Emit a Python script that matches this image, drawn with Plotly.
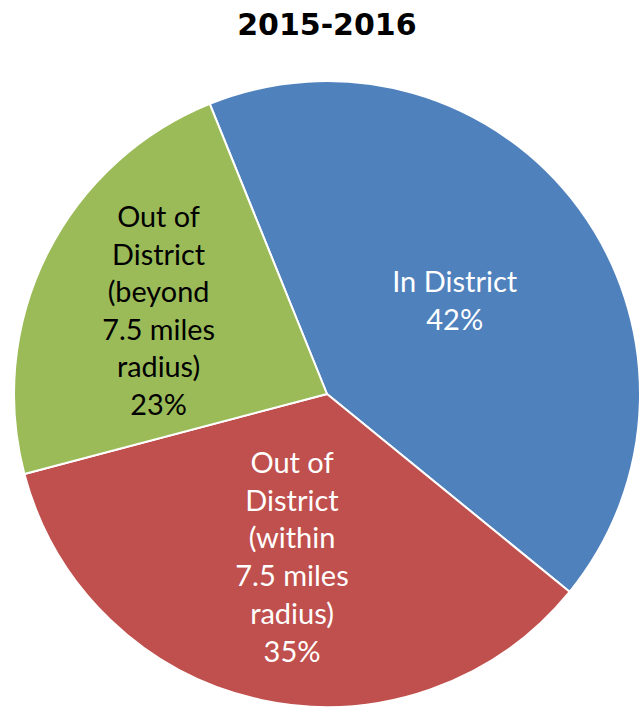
import plotly.graph_objects as go

labels = ["In District", "Out of District (within 7.5 miles radius)", "Out of District (beyond 7.5 miles radius)"]
text_labels = ["In District", "Out of<br>District<br>(within<br>7.5 miles<br>radius)", "Out of<br>District<br>(beyond<br>7.5 miles<br>radius)"]
values = [42, 35, 23]
colors = ["#4F81BD", "#C0504D", "#9BBB59"]
text_colors = ["white", "white", "black"]

fig = go.Figure(go.Pie(
    labels=labels,
    values=values,
    text=text_labels,
    texttemplate="%{text}<br>%{percent:.0%}",
    textposition="inside",
    insidetextorientation="horizontal",
    sort=False,
    direction="clockwise",
    rotation=-22,
    marker=dict(colors=colors, line=dict(color="white", width=2)),
    textfont=dict(family="Lato", size=29, color=text_colors),
    showlegend=False,
    hoverinfo="label+percent",
))

fig.update_layout(
    width=641, height=714,
    margin=dict(l=14, r=1, t=81, b=7),
    paper_bgcolor="white",
    title=dict(text="<b>2015-2016</b>", x=0.51, xanchor="center", y=0.965, yanchor="middle",
               font=dict(family="DejaVu Sans", size=30, color="black")),
)

fig.write_html("out.html", config={"displayModeBar": False},
               post_script="document.body.style.margin='0';document.body.style.overflow='hidden';")
